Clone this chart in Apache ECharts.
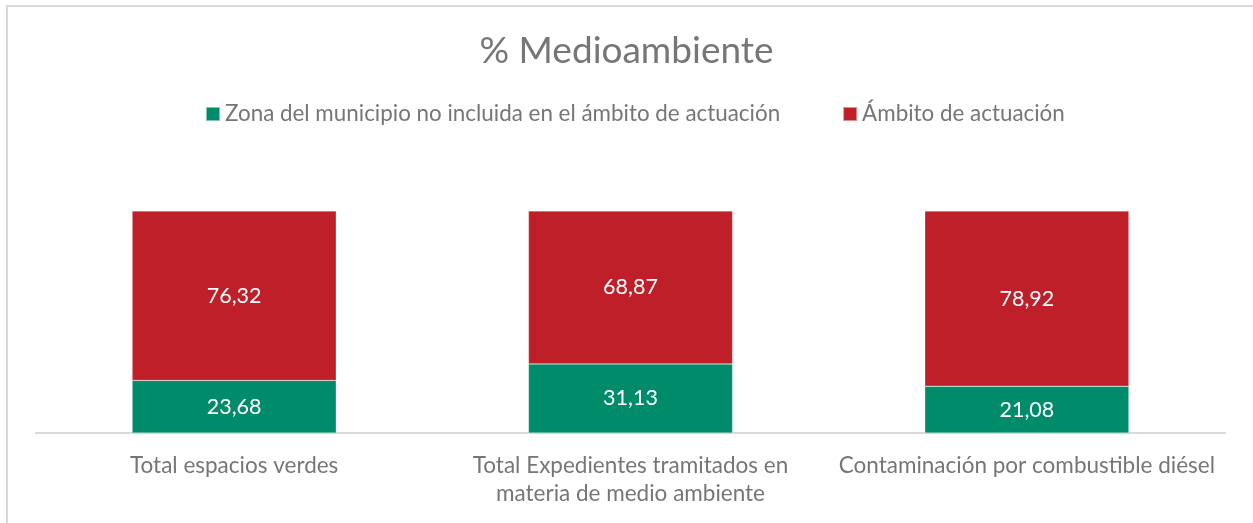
<!DOCTYPE html>
<html>
<head>
<meta charset="utf-8">
<script src="https://cdn.jsdelivr.net/npm/echarts@6/dist/echarts.min.js"></script>
<style>
html,body{margin:0;padding:0;background:#fff;}
#frame{position:absolute;left:6px;top:5px;width:1300px;height:600px;border-left:2px solid #d9d9d9;border-top:2px solid #d9d9d9;box-sizing:border-box;}
#chart{position:absolute;left:0;top:0;width:1253px;height:523px;}
</style>
</head>
<body>
<div id="frame"></div>
<div id="chart"></div>
<script>
const titleText = '% Medioambiente';
const categories = [
  'Total espacios verdes',
  'Total Expedientes tramitados en\nmateria de medio ambiente',
  'Contaminación por combustible diésel'
];
const seriesNames = ['Zona del municipio no incluida en el ámbito de actuación', 'Ámbito de actuación'];
const zonaValues = [23.68, 31.13, 21.08];
const ambitoValues = [76.32, 68.87, 78.92];
const colors = ['#008B6A', '#BE1F28'];

const font = 'Lato, "Open Sans", sans-serif';
const grey = '#767676';
const fmt = p => p.value.toFixed(2).replace('.', ',');

const chart = echarts.init(document.getElementById('chart'), null, {renderer: 'canvas'});
chart.setOption({
  animation: false,
  backgroundColor: 'transparent',
  title: {
    text: titleText, left: 'center', top: 28,
    textStyle: {fontFamily: font, fontSize: 37, fontWeight: 'normal', color: grey}
  },
  legend: {
    top: 98, left: 200, itemWidth: 14, itemHeight: 14, itemGap: 62,
    icon: 'rect',
    textStyle: {fontFamily: font, fontSize: 22.4, color: grey, padding: [0, 0, 0, 0]},
    data: seriesNames
  },
  grid: {left: 36, right: 28, top: 211, bottom: 90, containLabel: false},
  xAxis: {
    type: 'category', data: categories,
    axisLine: {lineStyle: {color: '#d9d9d9', width: 2}},
    axisTick: {show: false},
    axisLabel: {fontFamily: font, fontSize: 22.5, color: grey, margin: 19, lineHeight: 28, interval: 0}
  },
  yAxis: {type: 'value', min: 0, max: 100, show: false, splitLine: {show: false}},
  series: [
    {
      name: seriesNames[0], type: 'bar', stack: 'a', data: zonaValues,
      barCategoryGap: '48.5%',
      itemStyle: {color: colors[0], borderColor: 'rgba(255,255,255,0.5)', borderWidth: 0.5},
      label: {show: true, position: 'inside', formatter: fmt, color: '#fff', fontFamily: font, fontSize: 21.5}
    },
    {
      name: seriesNames[1], type: 'bar', stack: 'a', data: ambitoValues,
      barCategoryGap: '48.5%',
      itemStyle: {color: colors[1], borderColor: 'rgba(255,255,255,0.5)', borderWidth: 0.5},
      label: {show: true, position: 'inside', formatter: fmt, color: '#fff', fontFamily: font, fontSize: 21.5}
    }
  ]
});
</script>
</body>
</html>
